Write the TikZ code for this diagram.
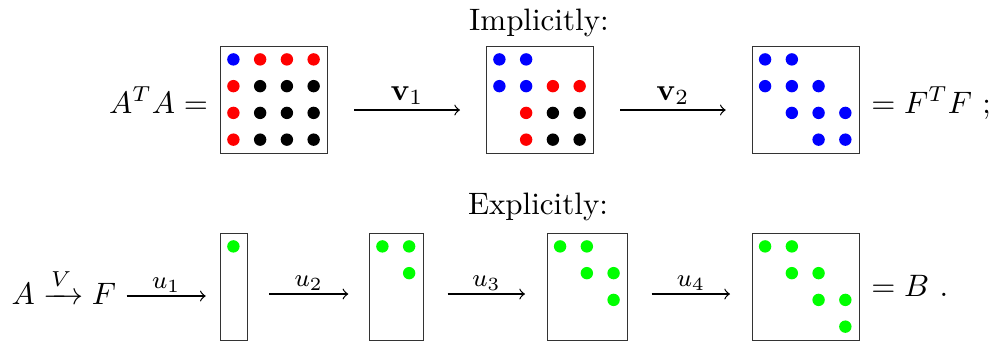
\documentclass[tikz,border=0pt]{standalone}
\usepackage{amsmath}
\begin{document}
\begin{tikzpicture}[x=0.3226pt,y=-0.3226pt,
  mbox/.style={draw=black!80, line width=0.45pt, inner sep=0pt, anchor=north west, minimum height=34.52pt},
  arr/.style={->, line width=0.4pt},
  labt/.style={midway, anchor=base, inner sep=0pt, yshift=3.2pt},
  labb/.style={midway, anchor=base, inner sep=0pt, yshift=2.4pt, font=\footnotesize},
  txt/.style={inner sep=0pt}]
\useasboundingbox (0,0) rectangle (993,341);
\newcommand{\mydots}[3]{\foreach \i/\j/\c in {#3}{\fill[\c] ({#1+13.4+26.75*\j},{#2+13.4+26.75*\i}) circle (2pt);}}
% titles
\node[txt, anchor=base] (imp) at (539,30) {Implicitly:};
\node[txt, anchor=base] (exp) at (538,214) {Explicitly:};
% top row
\node[txt, anchor=base east] (ata) at (208.5,113) {$A^TA =$};
\node[mbox, minimum width=34.52pt] (t1) at (220,46) {};
\node[mbox, minimum width=34.52pt] (t2) at (486,46) {};
\node[mbox, minimum width=34.52pt] (t3) at (751.7,46) {};
\node[txt, anchor=base west] (ftf) at (870.8,113) {$=F^TF$ ;};
\mydots{220}{46}{0/0/blue,0/1/red,0/2/red,0/3/red,
  1/0/red,1/1/black,1/2/black,1/3/black,
  2/0/red,2/1/black,2/2/black,2/3/black,
  3/0/red,3/1/black,3/2/black,3/3/black}
\mydots{486}{46}{0/0/blue,0/1/blue,
  1/0/blue,1/1/blue,1/2/red,1/3/red,
  2/1/red,2/2/black,2/3/black,
  3/1/red,3/2/black,3/3/black}
\mydots{751.7}{46}{0/0/blue,0/1/blue,
  1/0/blue,1/1/blue,1/2/blue,
  2/1/blue,2/2/blue,2/3/blue,
  3/2/blue,3/3/blue}
\coordinate (a1s) at (354,110);
\coordinate (a1e) at (460,110);
\coordinate (a2s) at (620,110);
\coordinate (a2e) at (725.7,110);
\draw[arr] (a1s) -- node[labt] (v1) {$\mathbf{v}_1$} (a1e);
\draw[arr] (a2s) -- node[labt] (v2) {$\mathbf{v}_2$} (a2e);
% bottom row
\node[txt, anchor=base west] (avf) at (11,304) {$A \xrightarrow{V} F$};
\node[mbox, minimum width=8.63pt] (b1) at (220,233) {};
\node[mbox, minimum width=17.26pt] (b2) at (369,233) {};
\node[mbox, minimum width=25.89pt] (b3) at (546.7,233) {};
\node[mbox, minimum width=34.52pt] (b4) at (751.7,233) {};
\node[txt, anchor=base west] (eqb) at (870.8,296.5) {$=B$ .};
\mydots{220}{233}{0/0/green}
\mydots{369}{233}{0/0/green,0/1/green,1/1/green}
\mydots{546.7}{233}{0/0/green,0/1/green,1/1/green,1/2/green,2/2/green}
\mydots{751.7}{233}{0/0/green,0/1/green,1/1/green,1/2/green,2/2/green,2/3/green,3/3/green}
\coordinate (u1s) at (126.7,296);
\coordinate (u1e) at (205.7,296);
\coordinate (u2s) at (269.3,294);
\coordinate (u2e) at (348.3,294);
\coordinate (u3s) at (447.7,294);
\coordinate (u3e) at (525,294);
\coordinate (u4s) at (651.7,294);
\coordinate (u4e) at (730,294);
\draw[arr] (u1s) -- node[labb] (l1) {$u_1$} (u1e);
\draw[arr] (u2s) -- node[labb] (l2) {$u_2$} (u2e);
\draw[arr] (u3s) -- node[labb] (l3) {$u_3$} (u3e);
\draw[arr] (u4s) -- node[labb] (l4) {$u_4$} (u4e);
\end{tikzpicture}
\end{document}
